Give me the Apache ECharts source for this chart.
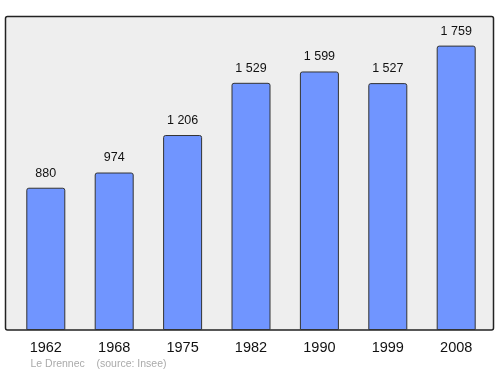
<!DOCTYPE html>
<html><head><meta charset="utf-8">
<script src="https://cdn.jsdelivr.net/npm/echarts@6/dist/echarts.min.js"></script>
<style>html,body{margin:0;padding:0;background:#fff}#c{width:500px;height:374px}</style>
</head><body><div id="c"></div>
<script>
var years = ['1962','1968','1975','1982','1990','1999','2008'];
var population = [880, 974, 1206, 1529, 1599, 1527, 1759];
var valueLabels = ['880','974','1 206','1 529','1 599','1 527','1 759'];

var chart = echarts.init(document.getElementById('c'), null, {renderer:'canvas'});
chart.setOption({
  animation:false,
  backgroundColor:'#ffffff',
  graphic:[
    {type:'rect', z:-10, shape:{x:5.5,y:16.5,width:488,height:313.5,r:2},
     style:{fill:'#eeeeee', stroke:'#222222', lineWidth:1.5}},
    {type:'text', left:30.5, top:359, style:{text:'Le Drennec', fill:'#aaaaaa', font:'10.5px "Liberation Sans", Arial, sans-serif'}},
    {type:'text', left:96.5, top:359, style:{text:'(source: Insee)', fill:'#aaaaaa', font:'10.5px "Liberation Sans", Arial, sans-serif'}}
  ],
  grid:{left:11.6, right:9.6, top:17, bottom:44, containLabel:false},
  xAxis:{type:'category', data:years,
    axisLine:{show:false}, axisTick:{show:false},
    axisLabel:{color:'#111', fontSize:14.5, fontFamily:'"Liberation Sans", Arial, sans-serif', margin:10.5}},
  yAxis:{type:'value', min:0, max:1936, show:false, splitLine:{show:false}},
  series:[{type:'bar', data:population, barWidth:39,
    itemStyle:{color:'#7095ff', borderColor:'#333333', borderWidth:1, borderRadius:[2,2,0,0]},
    label:{show:true, position:'top', distance:8, color:'#111', fontSize:12.5,
      fontFamily:'"Liberation Sans", Arial, sans-serif',
      formatter:function(p){return valueLabels[p.dataIndex];}}
  }]
});
</script></body></html>
